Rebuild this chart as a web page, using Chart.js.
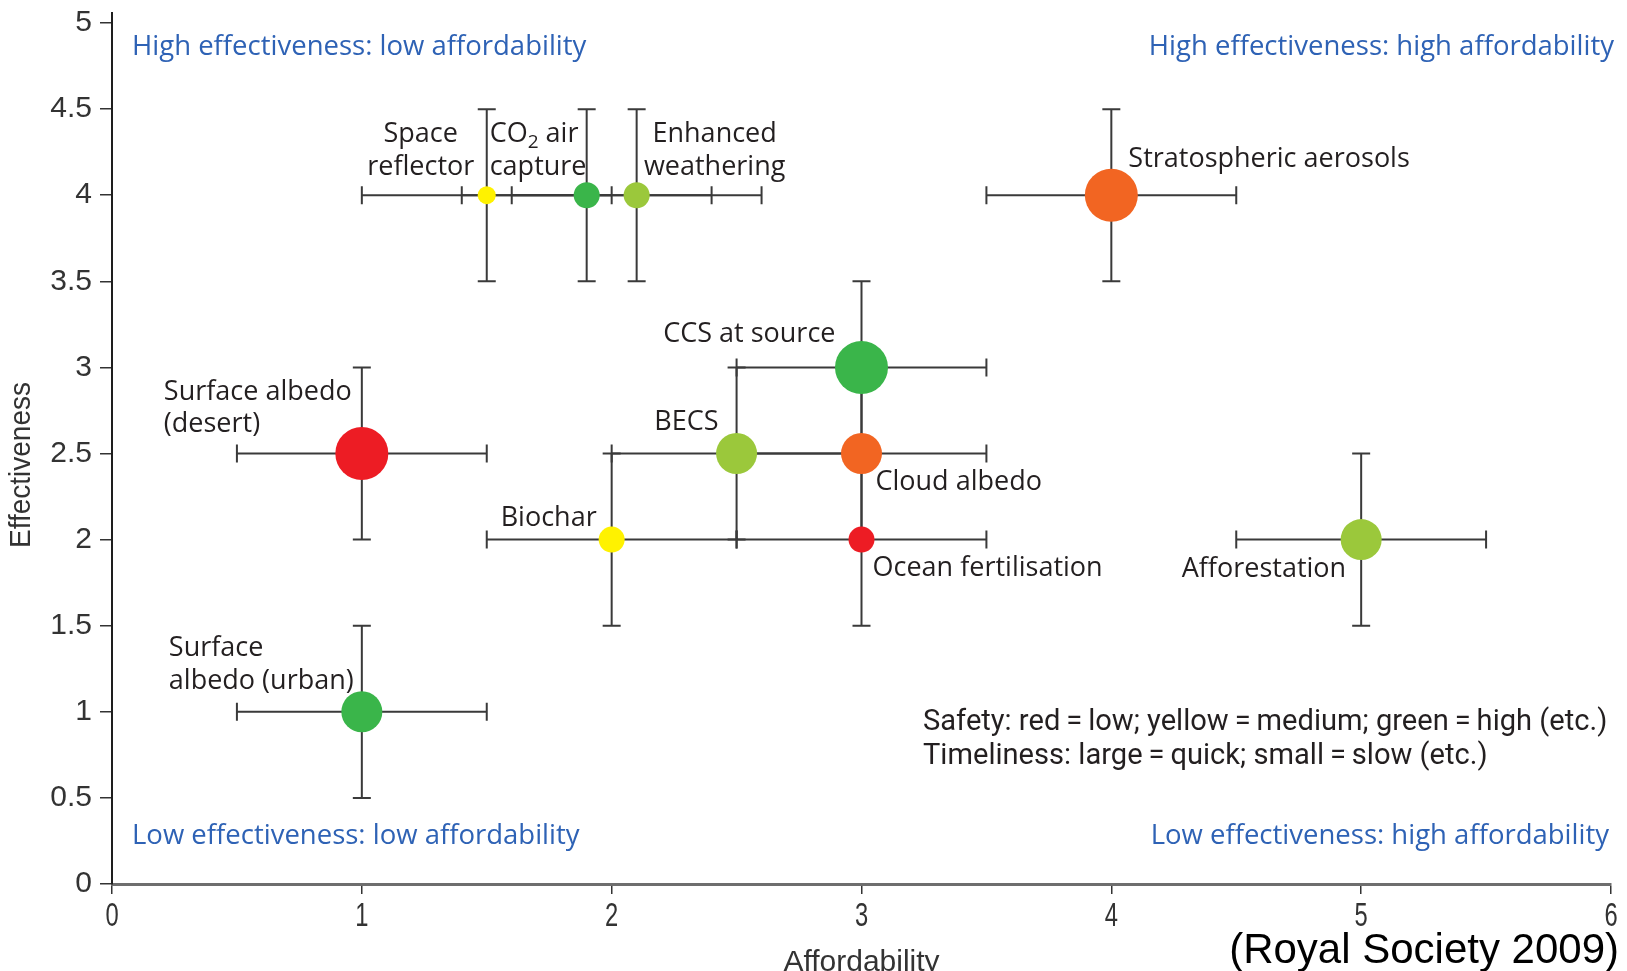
<!DOCTYPE html>
<html>
<head>
<meta charset="utf-8">
<title>Geoengineering methods: effectiveness vs affordability</title>
<script src="https://cdn.jsdelivr.net/npm/chart.js@4/dist/chart.umd.min.js"></script>
<style>
  html, body { margin: 0; padding: 0; background: #ffffff; }
  #wrap { width: 1627px; height: 971px; position: relative; }
  canvas { display: block; }
</style>
</head>
<body>
<div id="wrap"><canvas id="chart" width="1627" height="971"></canvas></div>
<script>
// ---- Data -------------------------------------------------------------
const methods = [
  'Space reflector', 'CO2 air capture', 'Enhanced weathering', 'Stratospheric aerosols',
  'CCS at source', 'Surface albedo (desert)', 'BECS', 'Cloud albedo',
  'Biochar', 'Ocean fertilisation', 'Afforestation', 'Surface albedo (urban)'
];
const affordability      = [1.5, 1.9, 2.1, 4.0, 3.0, 1.0, 2.5, 3.0, 2.0, 3.0, 5.0, 1.0];
const effectiveness      = [4.0, 4.0, 4.0, 4.0, 3.0, 2.5, 2.5, 2.5, 2.0, 2.0, 2.0, 1.0];
const affordabilitySpread = [0.5, 0.5, 0.5, 0.5, 0.5, 0.5, 0.5, 0.5, 0.5, 0.5, 0.5, 0.5];
const effectivenessSpread = [0.5, 0.5, 0.5, 0.5, 0.5, 0.5, 0.5, 0.5, 0.5, 0.5, 0.5, 0.5];
// Safety: 1 = low (red) ... 5 = high (green)
const safety     = [3, 5, 4, 2, 5, 1, 4, 2, 3, 1, 4, 5];
// Timeliness: 1 = slow (small) ... 4 = quick (large)
const timeliness = [1, 2, 2, 4, 4, 4, 3, 3, 2, 2, 3, 3];

const xTickValues = [0, 1, 2, 3, 4, 5, 6];
const yTickValues = [0, 0.5, 1, 1.5, 2, 2.5, 3, 3.5, 4, 4.5, 5];

const quadrantLabels = [
  'High effectiveness: low affordability',
  'High effectiveness: high affordability',
  'Low effectiveness: low affordability',
  'Low effectiveness: high affordability'
];
const keyLines = [
  'Safety: red\u2009=\u2009low; yellow\u2009=\u2009medium; green\u2009=\u2009high (etc.)',
  'Timeliness: large\u2009=\u2009quick; small\u2009=\u2009slow (etc.)'
];
const xTitle = 'Affordability';
const yTitle = 'Effectiveness';
const sourceNote = '(Royal Society 2009)';

// ---- Styles -----------------------------------------------------------
const safetyColours = { 1: '#ED1C24', 2: '#F26522', 3: '#FFF200', 4: '#9BC83B', 5: '#3AB54A' };
const timelinessRadius = { 1: 9, 2: 13, 3: 20.5, 4: 26.5 };
const TEXT = '#231f20';
const BLUE = '#2e62b5';
const LABEL_FONT = '27px "Open Sans", "Noto Sans", sans-serif';
const SUB_FONT = '19px "Open Sans", "Noto Sans", sans-serif';
const QUAD_FONT = '27.5px "Open Sans", "Noto Sans", sans-serif';

// Label placement around each marker (pixel offsets from the marker centre)
const labelLayout = [
  { lines: [[{ t: 'Space' }], [{ t: 'reflector' }]], dx: -66, dy: [-61, -28], align: 'center' },
  { lines: [[{ t: 'CO' }, { t: '2', sub: true }, { t: ' air' }], [{ t: 'capture' }]], dx: -97, dy: [-61, -28], align: 'left' },
  { lines: [[{ t: 'Enhanced' }], [{ t: 'weathering' }]], dx: 78, dy: [-61, -28], align: 'center' },
  { lines: [[{ t: 'Stratospheric aerosols' }]], dx: 17, dy: [-36], align: 'left' },
  { lines: [[{ t: 'CCS at source' }]], dx: -26, dy: [-33], align: 'right' },
  { lines: [[{ t: 'Surface albedo' }], [{ t: '(desert)' }]], dx: -198, dy: [-61, -29], align: 'left' },
  { lines: [[{ t: 'BECS' }]], dx: -18, dy: [-31], align: 'right' },
  { lines: [[{ t: 'Cloud albedo' }]], dx: 14, dy: [29], align: 'left' },
  { lines: [[{ t: 'Biochar' }]], dx: -15, dy: [-21], align: 'right' },
  { lines: [[{ t: 'Ocean fertilisation' }]], dx: 11, dy: [29], align: 'left' },
  { lines: [[{ t: 'Afforestation' }]], dx: -15, dy: [30], align: 'right' },
  { lines: [[{ t: 'Surface' }], [{ t: 'albedo (urban)' }]], dx: -193, dy: [-63, -30], align: 'left' }
];

// Draw a (possibly condensed) single-line string
function drawText(ctx, str, x, y, font, colour, align, stretch) {
  ctx.save();
  ctx.font = font;
  ctx.fillStyle = colour;
  ctx.textBaseline = 'middle';
  ctx.textAlign = align;
  ctx.translate(x, y);
  ctx.scale(stretch || 1, 1);
  ctx.fillText(str, 0, 0);
  ctx.restore();
}

// Draw a line made of segments, some of which may be subscripts
function drawRich(ctx, segs, x, y, align) {
  ctx.save();
  ctx.textBaseline = 'middle';
  ctx.fillStyle = TEXT;
  const widths = segs.map(s => { ctx.font = s.sub ? SUB_FONT : LABEL_FONT; return ctx.measureText(s.t).width; });
  const total = widths.reduce((a, b) => a + b, 0);
  let cx = align === 'center' ? x - total / 2 : align === 'right' ? x - total : x;
  ctx.textAlign = 'left';
  segs.forEach((s, i) => {
    ctx.font = s.sub ? SUB_FONT : LABEL_FONT;
    ctx.fillText(s.t, cx, s.sub ? y + 8 : y);
    cx += widths[i];
  });
  ctx.restore();
}

// Horizontal and vertical range bars behind each marker
const rangeBars = {
  id: 'rangeBars',
  beforeDatasetsDraw(chart) {
    const { ctx, scales: { x, y } } = chart;
    const cap = 9;
    ctx.save();
    ctx.strokeStyle = '#3a3a3a';
    ctx.lineWidth = 2;
    ctx.lineCap = 'butt';
    methods.forEach((_, i) => {
      const px = x.getPixelForValue(affordability[i]);
      const py = y.getPixelForValue(effectiveness[i]);
      const x0 = x.getPixelForValue(affordability[i] - affordabilitySpread[i]);
      const x1 = x.getPixelForValue(affordability[i] + affordabilitySpread[i]);
      const y0 = y.getPixelForValue(effectiveness[i] - effectivenessSpread[i]);
      const y1 = y.getPixelForValue(effectiveness[i] + effectivenessSpread[i]);
      ctx.beginPath();
      ctx.moveTo(x0, py); ctx.lineTo(x1, py);
      ctx.moveTo(x0, py - cap); ctx.lineTo(x0, py + cap);
      ctx.moveTo(x1, py - cap); ctx.lineTo(x1, py + cap);
      ctx.moveTo(px, y0); ctx.lineTo(px, y1);
      ctx.moveTo(px - cap, y0); ctx.lineTo(px + cap, y0);
      ctx.moveTo(px - cap, y1); ctx.lineTo(px + cap, y1);
      ctx.stroke();
    });
    ctx.restore();
  }
};

// Marker names, quadrant captions, key, axis titles and x tick labels
const annotations = {
  id: 'annotations',
  afterDraw(chart) {
    const { ctx, chartArea: a, scales: { x, y } } = chart;
    labelLayout.forEach((l, i) => {
      const px = x.getPixelForValue(affordability[i]);
      const py = y.getPixelForValue(effectiveness[i]);
      l.lines.forEach((segs, k) => drawRich(ctx, segs, px + l.dx, py + l.dy[k], l.align));
    });

    drawText(ctx, quadrantLabels[0], a.left + 20, a.top + 34, QUAD_FONT, BLUE, 'left');
    drawText(ctx, quadrantLabels[1], a.right + 3, a.top + 34, QUAD_FONT, BLUE, 'right');
    drawText(ctx, quadrantLabels[2], a.left + 20, a.bottom - 48, QUAD_FONT, BLUE, 'left');
    drawText(ctx, quadrantLabels[3], a.right - 2, a.bottom - 48, QUAD_FONT, BLUE, 'right');

    const keyFont = '30px Roboto, "Liberation Sans", sans-serif';
    drawText(ctx, keyLines[0], a.left + 811, a.bottom - 162, keyFont, TEXT, 'left', 0.97);
    drawText(ctx, keyLines[1], a.left + 811, a.bottom - 128, keyFont, TEXT, 'left', 0.97);

    // x tick labels (condensed)
    xTickValues.forEach(v => {
      drawText(ctx, String(v), x.getPixelForValue(v), a.bottom + 33,
        '33px "Liberation Sans", Arial, sans-serif', '#333', 'center', 0.72);
    });

    drawText(ctx, xTitle, (a.left + a.right) / 2, 963, '30px "Liberation Sans", Arial, sans-serif', '#333', 'center', 1);

    ctx.save();
    ctx.translate(22, 465);
    ctx.rotate(-Math.PI / 2);
    drawText(ctx, yTitle, 0, 0, '29px "Liberation Sans", Arial, sans-serif', '#333', 'center', 0.965);
    ctx.restore();

    drawText(ctx, sourceNote, 1619, 951, '42px "Liberation Sans", Arial, sans-serif', '#000', 'right', 1);
  }
};

const ctx = document.getElementById('chart').getContext('2d');
new Chart(ctx, {
  type: 'scatter',
  data: {
    datasets: [{
      data: methods.map((m, i) => ({ x: affordability[i], y: effectiveness[i] })),
      pointRadius: timeliness.map(t => timelinessRadius[t]),
      pointHoverRadius: timeliness.map(t => timelinessRadius[t]),
      pointBackgroundColor: safety.map(s => safetyColours[s]),
      pointBorderWidth: 0,
      pointBorderColor: 'rgba(0,0,0,0)',
      clip: false
    }]
  },
  options: {
    responsive: false,
    animation: false,
    devicePixelRatio: 1,
    events: [],
    layout: { autoPadding: false, padding: { left: 0, right: 16, top: 12.7, bottom: 0 } },
    plugins: { legend: { display: false }, tooltip: { enabled: false } },
    scales: {
      x: {
        type: 'linear', min: 0, max: 6,
        afterBuildTicks: s => { s.ticks = xTickValues.map(v => ({ value: v })); },
        afterFit: s => { s.height = 87; s.paddingLeft = 0; s.paddingRight = 0; },
        ticks: { display: false },
        grid: { display: true, drawOnChartArea: false, drawTicks: true, tickLength: 10, tickColor: '#333', lineWidth: 1.5 },
        border: { display: true, color: '#6e6e6e', width: 3 }
      },
      y: {
        type: 'linear', min: 0, max: 5.06,
        afterBuildTicks: s => { s.ticks = yTickValues.map(v => ({ value: v })); },
        afterFit: s => { s.width = 112; s.paddingTop = 0; s.paddingBottom = 0; },
        ticks: {
          padding: 8, color: '#333',
          font: { family: '"Liberation Sans", Arial, sans-serif', size: 30 },
          callback: v => String(v)
        },
        grid: { display: true, drawOnChartArea: false, drawTicks: true, tickLength: 12, tickColor: '#333', lineWidth: 1.5 },
        border: { display: true, color: '#1e1e1e', width: 2 }
      }
    }
  },
  plugins: [rangeBars, annotations]
});
</script>
</body>
</html>
